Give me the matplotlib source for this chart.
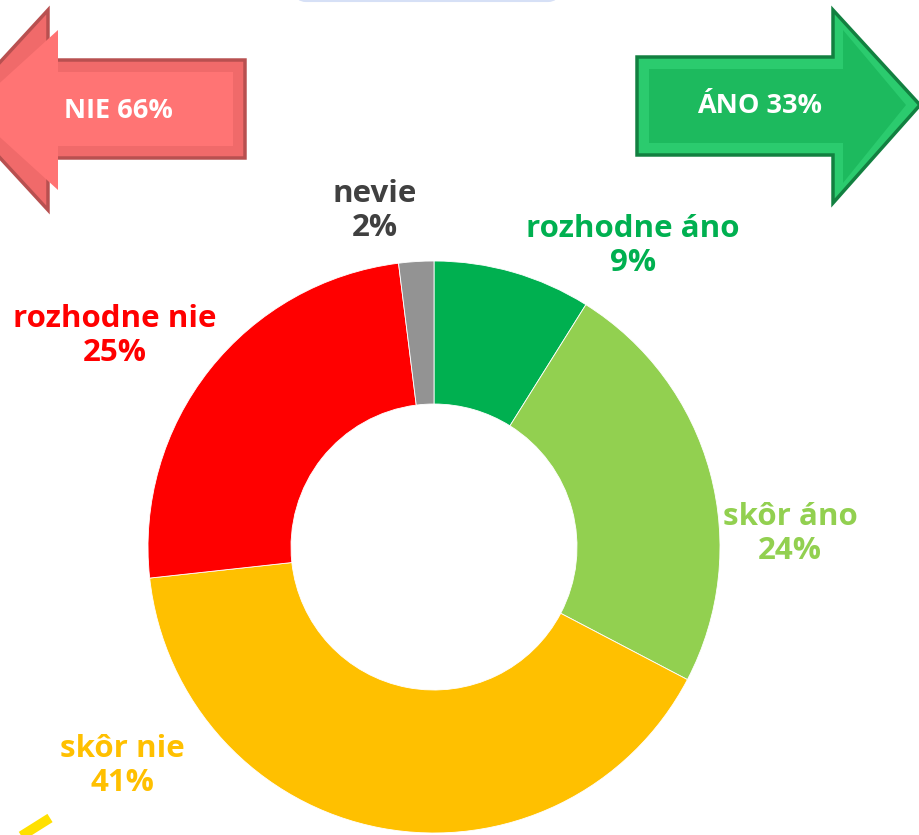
import matplotlib
matplotlib.use("Agg")
import matplotlib.pyplot as plt
from matplotlib.patches import Polygon, FancyBboxPatch

# Data
categories = ["rozhodne áno", "skôr áno", "skôr nie", "rozhodne nie", "nevie"]
values = [9, 24, 41, 25, 2]
colors = ["#00B050", "#92D050", "#FFC000", "#FF0000", "#939393"]
label_colors = ["#00B050", "#92D050", "#FFC000", "#FF0000", "#404040"]
summary_labels = ["NIE 66%", "ÁNO 33%"]

W, H = 920, 835
FONT = "Open Sans"

fig = plt.figure(figsize=(W / 100, H / 100), dpi=100)

# overlay in pixel coords for arrows and labels
ov = fig.add_axes([0, 0, 1, 1])
ov.set_xlim(0, W)
ov.set_ylim(H, 0)
ov.axis("off")

# donut, centre (434, 547), radius 286 px
cx, cy, r = 434, 547, 286
ax = fig.add_axes([(cx - r) / W, (H - cy - r) / H, 2 * r / W, 2 * r / H])
ax.pie(values, colors=colors, startangle=90, counterclock=False, radius=1,
       wedgeprops=dict(width=0.5, edgecolor="white", linewidth=0.6))
ax.set_xlim(-1, 1)
ax.set_ylim(-1, 1)
ax.set_aspect("equal")
ax.axis("off")

# faint box at top centre
ov.add_patch(FancyBboxPatch((296, -30), 262, 31, boxstyle="round,pad=0,rounding_size=10",
                            facecolor="#E6ECFA", edgecolor="#D6E0F6", linewidth=1.5))


def arrow(points, inner, face, edge, bevel):
    ov.add_patch(Polygon(points, closed=True, facecolor=bevel, edgecolor=edge, linewidth=2.5))
    ov.add_patch(Polygon(inner, closed=True, facecolor=face, edgecolor="none"))


# red arrow pointing left
red_pts = [(-44, 110), (48, 10), (48, 60), (245, 60), (245, 158), (48, 158), (48, 210)]
red_in = [(-30, 110), (58, 30), (58, 72), (233, 72), (233, 146), (58, 146), (58, 190)]
arrow(red_pts, red_in, "#FF7474", "#B85050", "#F06A6A")
ov.text(118, 111, summary_labels[0], color="white", fontsize=19.5, fontweight="bold",
        family=FONT, ha="center", va="center")

# green arrow pointing right
green_pts = [(637, 57), (833, 57), (833, 10), (920, 105), (833, 203), (833, 155), (637, 155)]
green_in = [(649, 69), (843, 69), (843, 30), (906, 105), (843, 183), (843, 143), (649, 143)]
arrow(green_pts, green_in, "#1DBA5E", "#128040", "#2BCB6E")
ov.text(760, 106, summary_labels[1], color="white", fontsize=19.5, fontweight="bold",
        family=FONT, ha="center", va="center")

# yellow stroke bottom-left
ov.plot([15, 50], [840, 818], color="#FFE000", linewidth=7, solid_capstyle="butt")

# slice labels
label_pos = [(633, 246), (790, 534), (122, 766), (115, 336), (375, 211)]
for cat, v, col, (x, y) in zip(categories, values, label_colors, label_pos):
    ov.text(x, y, f"{cat}\n{v}%", color=col, fontsize=22.5, fontweight="bold",
            family=FONT, ha="center", va="center", linespacing=1.2)

fig.savefig("out.png", dpi=100)
